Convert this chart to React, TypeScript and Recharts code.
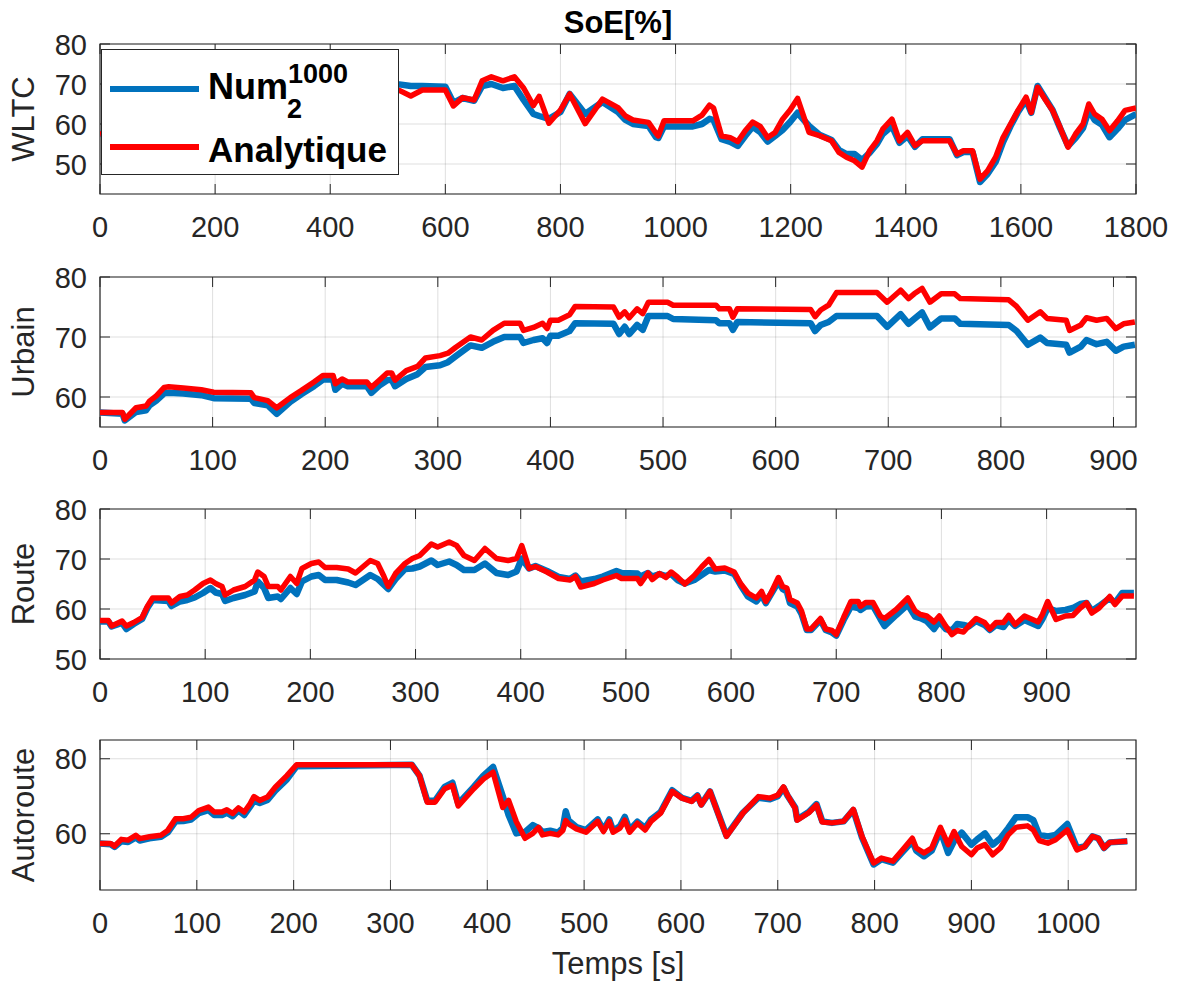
import { CartesianGrid, Line, LineChart, ReferenceArea, XAxis, YAxis } from "recharts";

const BLUE = "#0072BD";
const RED = "#FF0000";
const INK = "#262626";
const FONT = "'Liberation Sans', Arial, Helvetica, sans-serif";

const LEFT = 100;
const RIGHT = 1136;
const PAD = 24;
const PLOT_H = 150;
const AXIS_H = 58;
const CHART_W = 1186;
const CHART_H = PAD + PLOT_H + AXIS_H;
const TICK_LEN = 10;
const TICK_FONT = 29;
const LABEL_FONT = 31;

// WLTC cycle (0-520 s sits under the legend)
const wltcTime = [
  0, 60, 120, 180, 240, 300, 360, 420, 480, 520,
  540, 560, 600, 614, 630, 650, 664, 680, 700, 720,
  736, 753, 763, 780, 800, 816, 843, 873, 900, 913,
  926, 953, 966, 970, 980, 1030, 1046, 1059, 1066, 1080,
  1095, 1108, 1121, 1134, 1147, 1160, 1173, 1186, 1199, 1212,
  1232, 1250, 1271, 1284, 1297, 1311, 1324, 1337, 1350, 1360,
  1376, 1389, 1403, 1416, 1429, 1476, 1489, 1500, 1516, 1529,
  1542, 1556, 1569, 1582, 1595, 1609, 1618, 1629, 1642, 1655,
  1668, 1682, 1695, 1708, 1718, 1728, 1741, 1754, 1768, 1781,
  1800,
];
const wltcNum = [
  57.5, 58.5, 60.5, 59.5, 62, 64, 66, 68, 69.5, 69.9,
  69.5, 69.5, 69.3, 65.3, 66.5, 65.8, 69.5, 70, 69, 69.5,
  66, 62.5, 62, 61.3, 63, 67.5, 62.5, 65.5, 63, 61,
  60, 59.5, 56.7, 56.5, 59.4, 59.4, 60, 61.3, 61, 56.2,
  55.5, 54.5, 57, 59.3, 58, 55.6, 57, 58.5, 60.5, 62.8,
  59.5, 57.3, 56, 53.5, 52.5, 52.5, 51, 52.8, 55, 57.5,
  59.5, 55.3, 57, 54.3, 56.2, 56.2, 52.2, 53, 53, 45.5,
  47.5, 50.5, 55.5, 59.5, 63, 66, 62.8, 69.5, 66.5, 63.5,
  59, 54.5, 56.5, 59, 63.5, 61, 59.8, 56.7, 58.8, 61,
  62.5,
];
const wltcAna = [
  57.5, 59, 61, 60, 63, 65, 66, 68, 69, 68.4,
  67, 68.5, 68.5, 64.5, 66.6, 66, 70.8, 71.8, 70.8, 71.8,
  69, 64.6, 66.9, 60.2, 63.5, 67.5, 60.1, 66.2, 64.1, 62,
  61, 60.4, 57.7, 57, 60.8, 60.8, 62.2, 64.7, 64, 57,
  56.6, 55.6, 58.3, 60.5, 59.4, 56.6, 57.9, 61.2, 63.5, 66.4,
  57.9, 57.1, 55.8, 52.9, 51.7, 50.8, 49.2, 53.3, 55.8, 58.7,
  61.2, 55.8, 57.9, 54.6, 55.8, 55.8, 52.5, 53.3, 53.3, 46.2,
  48.3, 51.7, 56.6, 60, 63.4, 66.7, 62.9, 69.2, 66.2, 63.4,
  59.2, 54.2, 57.5, 60, 65, 62.5, 61.2, 58.3, 60.8, 63.4,
  64,
];

// Urbain
const urbTime = [
  0, 20, 22, 32, 41, 44, 50, 57, 61, 74,
  90, 101, 134, 137, 149, 157, 169, 179, 190, 198,
  207, 209, 215, 220, 237, 241, 248, 255, 259, 262,
  272, 282, 289, 302, 309, 316, 329, 339, 349, 359,
  373, 376, 385, 393, 397, 400, 407, 417, 422, 456,
  461, 466, 470, 477, 482, 487, 504, 509, 547, 550,
  559, 562, 566, 631, 635, 640, 647, 654, 690, 699,
  711, 718, 723, 730, 737, 747, 759, 764, 807, 814,
  824, 835, 841, 858, 861, 871, 876, 885, 894, 902,
  909, 919,
];
const urbNum = [
  57.4, 57.2, 56.1, 57.5, 57.8, 58.6, 59.4, 60.6, 60.7, 60.6,
  60.3, 59.8, 59.7, 59, 58.6, 57.2, 59.2, 60.5, 61.8, 62.9,
  62.9, 61.2, 62.2, 61.8, 61.8, 60.7, 61.9, 62.8, 62.9, 61.8,
  63, 63.8, 65, 65.3, 65.8, 66.8, 68.6, 68.2, 69.2, 70,
  70, 69, 69.5, 69.8, 69, 70.2, 70.2, 71, 72.3, 72.2,
  70.5, 71.7, 70.5, 72, 71.2, 73.5, 73.5, 73, 72.8, 72.3,
  72.3, 71.2, 72.5, 72.3, 71, 72, 72.5, 73.5, 73.5, 71.7,
  73.8, 72.2, 73, 74.1, 71.6, 73.1, 73.1, 72.2, 72, 71,
  68.7, 69.9, 69, 68.7, 67.4, 68.4, 69.5, 68.8, 69.2, 67.7,
  68.4, 68.7,
];
const urbAna = [
  57.4, 57.4, 56.3, 58.2, 58.5, 59.3, 60.2, 61.6, 61.7, 61.5,
  61.2, 60.8, 60.7, 59.9, 59.4, 58.2, 59.9, 61.1, 62.5, 63.6,
  63.6, 62.2, 63, 62.5, 62.5, 61.6, 62.8, 64, 64, 62.8,
  64.4, 65.1, 66.5, 66.9, 67.3, 68.3, 70, 69.5, 71.1, 72.3,
  72.3, 71.1, 71.6, 72.3, 71.4, 72.8, 72.8, 73.7, 75.1, 75,
  73.3, 74.2, 73.2, 74.7, 73.9, 75.8, 75.8, 75.3, 75.3, 74.7,
  74.7, 73.3, 74.7, 74.6, 73.4, 74.5, 75.3, 77.4, 77.4, 75.8,
  77.8, 76.4, 77.2, 78.1, 75.8, 77.2, 77.2, 76.4, 76.2, 75.1,
  72.8, 74.2, 73.1, 72.8, 71.1, 72, 73.2, 72.8, 73.1, 71.4,
  72.2, 72.5,
];

// Route
const routeTime = [
  0, 8, 11, 18, 21, 25, 32, 40, 45, 50,
  65, 68, 76, 83, 90, 98, 105, 110, 116, 119,
  127, 138, 147, 150, 156, 160, 169, 172, 181, 187,
  192, 201, 208, 214, 225, 236, 243, 257, 264, 270,
  274, 281, 290, 297, 304, 315, 321, 332, 339, 346,
  356, 366, 377, 388, 396, 401, 408, 414, 425, 436,
  447, 452, 457, 470, 478, 491, 496, 511, 514, 521,
  525, 532, 538, 543, 549, 556, 565, 572, 579, 585,
  594, 603, 609, 616, 624, 629, 633, 638, 645, 649,
  653, 656, 663, 667, 672, 676, 685, 690, 696, 700,
  707, 714, 721, 723, 728, 735, 742, 746, 757, 768,
  775, 780, 786, 793, 798, 804, 810, 815, 821, 826,
  833, 841, 846, 852, 859, 864, 870, 879, 892, 896,
  901, 909, 918, 925, 932, 938, 943, 950, 960, 965,
  972, 983,
];
const routeNum = [
  57.5, 57.5, 56.5, 57, 57.2, 56, 57, 58, 60.2, 61.8,
  61.6, 60.6, 61.5, 61.8, 62.3, 63.2, 64.2, 63.3, 63, 61.6,
  62.2, 62.8, 63.5, 65.5, 64.2, 62.2, 62.5, 62, 64.2, 63,
  65.5, 66.5, 66.8, 65.8, 65.8, 65.3, 64.8, 66.8, 66, 64.8,
  64, 66, 68, 68.1, 68.5, 69.7, 68.8, 69.5, 68.8, 67.8,
  67.8, 69.1, 67.2, 66.8, 67.5, 70.1, 68.1, 68.6, 67.6, 66.4,
  66, 66.7, 65.5, 66, 66.5, 67.6, 67.2, 67.1, 66.5, 67.2,
  66.5, 67, 66.6, 67, 65.8, 65.1, 65.8, 66.8, 67.8, 67.5,
  67.7, 67, 64.8, 62.5, 61.5, 62.8, 61.2, 63, 65.5, 64,
  63.5, 61.2, 60.5, 59, 55.8, 55.8, 57.8, 55.8, 55.3, 54.7,
  57.8, 60.5, 60.2, 59.8, 60.5, 60.6, 58, 56.6, 58.8, 60.9,
  58.5, 58.2, 57.6, 56, 57.5, 56, 55.7, 57, 56.8, 56.5,
  57.6, 56.8, 55.8, 56.8, 56.4, 57.8, 56.6, 57.8, 56.6, 58,
  60.2, 59.6, 59.8, 60.2, 61, 61.2, 59.6, 60.6, 62.2, 61.2,
  63.2, 63.2,
];
const routeAna = [
  57.7, 57.7, 56.6, 57.3, 57.6, 56.6, 57.3, 58.3, 60.5, 62.2,
  62.2, 61.2, 62.5, 62.8, 63.8, 65.1, 65.8, 65.1, 64.5, 62.8,
  63.8, 64.5, 65.8, 67.4, 66.5, 64.5, 64.5, 63.8, 66.5, 65.1,
  68.1, 69.1, 69.4, 68.3, 68.3, 68, 67.2, 69.7, 69.1, 66.5,
  64.5, 67.1, 69.1, 70.1, 70.7, 73, 72.4, 73.4, 72.7, 70.7,
  69.7, 72.1, 70.1, 69.7, 70.1, 72.7, 68.1, 68.5, 67.4, 66.1,
  65.8, 66.5, 64.4, 65.1, 65.8, 66.7, 66.1, 66.1, 65.1, 67.2,
  65.9, 67.1, 66.3, 67.4, 66.4, 65, 66.7, 68.4, 69.9, 68,
  68.2, 67.4, 65.1, 63.2, 62.2, 63.5, 61.5, 63.2, 66.3, 64.5,
  64.2, 61.9, 61.2, 59.6, 56, 56, 58.1, 56, 55.7, 54.9,
  58.3, 61.5, 61.5, 60.5, 61.3, 61.3, 58.6, 58.1, 59.9, 62.2,
  59.6, 58.9, 58.6, 57.4, 58.6, 56.6, 54.9, 55.7, 55.4, 56.6,
  58.1, 57.3, 56, 57.3, 57.3, 58.7, 56.9, 58.6, 57.4, 58.9,
  61.5, 57.9, 58.6, 58.7, 60.2, 61.2, 59.2, 60.2, 62.5, 60.9,
  62.6, 62.6,
];

// Autoroute
const autoTime = [
  0, 11, 15, 22, 29, 37, 41, 51, 63, 70,
  78, 86, 94, 102, 112, 118, 126, 131, 137, 143,
  149, 155, 159, 165, 173, 181, 193, 203, 322, 330,
  338, 346, 356, 364, 370, 386, 396, 406, 416, 422,
  430, 439, 447, 453, 457, 465, 473, 478, 481, 484,
  492, 502, 514, 520, 526, 530, 537, 542, 547, 555,
  563, 569, 579, 591, 601, 611, 617, 621, 630, 647,
  664, 680, 692, 700, 706, 710, 718, 720, 732, 740,
  746, 756, 768, 778, 787, 799, 807, 819, 829, 839,
  843, 851, 859, 868, 876, 882, 890, 900, 906, 914,
  922, 930, 938, 946, 958, 964, 970, 979, 987, 999,
  1009, 1017, 1025, 1031, 1037, 1043, 1061,
];
const autoNum = [
  57.4, 57.2, 56.5, 58, 57.8, 59, 58.2, 58.8, 59.2, 60.4,
  63.3, 63.4, 63.8, 65.5, 66.3, 65, 65, 65.6, 64.7, 66.2,
  65, 67.2, 68.8, 68.2, 69, 71.5, 74.5, 78, 78.4, 75.5,
  68.8, 68.8, 72.5, 73.6, 68, 72.5, 75.5, 77.8, 70, 65,
  60.1, 60.5, 62.3, 61.5, 60.5, 60.8, 60.3, 61.5, 66, 63.5,
  61.8, 61, 63.8, 61, 63.8, 60.8, 62, 64.5, 61, 63.2,
  61.5, 63.8, 65.8, 71.6, 69.6, 68.8, 70.2, 67.8, 71.3, 59.5,
  65.6, 69.6, 69.2, 70, 72.3, 70.2, 67, 63.8, 65.8, 67.9,
  63.3, 62.9, 63.3, 66.3, 59, 51.8, 53.2, 52.3, 55.2, 58,
  55.5, 54, 55.5, 60.8, 54.9, 58, 60.3, 57.1, 58.5, 60.1,
  57.1, 58.8, 61.5, 64.4, 64.4, 63.6, 59.7, 59.3, 59.7, 62.6,
  56.2, 56.6, 59.3, 58.8, 56.2, 57.7, 58,
];
const autoAna = [
  57.4, 57.4, 56.7, 58.5, 58.3, 59.6, 58.7, 59.2, 59.6, 60.9,
  64, 64, 64.4, 66.2, 67.1, 65.8, 65.8, 66.4, 65.4, 66.9,
  65.8, 68, 69.9, 68.9, 69.8, 72.4, 75.5, 78.4, 78.4, 75.5,
  68.4, 68.4, 72, 72.9, 67.4, 72, 74.6, 76.4, 67, 68.9,
  63.2, 58.8, 60.1, 61.7, 59.7, 60.1, 59.7, 60.9, 63.5, 62.6,
  61.3, 60.4, 63.3, 60.6, 63.3, 60.4, 61.5, 63.6, 60.4, 62.8,
  61, 63.3, 65.5, 71.3, 69.5, 68.6, 70.1, 67.7, 71.3, 59.3,
  65.5, 69.9, 69.5, 70.3, 72.5, 70.3, 66.8, 63.6, 65.6, 67.7,
  63.1, 62.9, 63.3, 66.5, 59.3, 52.2, 53.5, 52.7, 55.7, 58.8,
  56.2, 54.9, 56.2, 61.7, 57.1, 60.6, 56.6, 54.4, 56.2, 57.1,
  54.4, 56.2, 59.7, 61.7, 62.1, 61, 58.2, 57.5, 58.4, 61,
  55.7, 56.6, 59.3, 58.8, 56.2, 57.7, 58,
];

const wltcXTicks = [0, 200, 400, 600, 800, 1000, 1200, 1400, 1600, 1800];
const hundredTicks = [0, 100, 200, 300, 400, 500, 600, 700, 800, 900];
const autoXTicks = [0, 100, 200, 300, 400, 500, 600, 700, 800, 900, 1000];

type PanelDef = {
  label: string;
  top: number;
  time: number[];
  num: number[];
  ana: number[];
  xMax: number;
  xTicks: number[];
  yDomain: [number, number];
  yTicks: number[];
};

const panels: PanelDef[] = [
  { label: "WLTC", top: 44, time: wltcTime, num: wltcNum, ana: wltcAna, xMax: 1800, xTicks: wltcXTicks, yDomain: [42.5, 80], yTicks: [50, 60, 70, 80] },
  { label: "Urbain", top: 277, time: urbTime, num: urbNum, ana: urbAna, xMax: 920, xTicks: hundredTicks, yDomain: [55, 80], yTicks: [60, 70, 80] },
  { label: "Route", top: 509, time: routeTime, num: routeNum, ana: routeAna, xMax: 985, xTicks: hundredTicks, yDomain: [50, 80], yTicks: [50, 60, 70, 80] },
  { label: "Autoroute", top: 740, time: autoTime, num: autoNum, ana: autoAna, xMax: 1070, xTicks: autoXTicks, yDomain: [45, 85], yTicks: [60, 80] },
];

function XTick(props: any) {
  const { x, payload } = props;
  const bottom = PAD + PLOT_H;
  return (
    <g>
      <line x1={x} x2={x} y1={PAD} y2={PAD + TICK_LEN} stroke={INK} />
      <line x1={x} x2={x} y1={bottom} y2={bottom - TICK_LEN} stroke={INK} />
      <text x={x} y={bottom + 43} textAnchor="middle" fontSize={TICK_FONT} fill={INK} fontFamily={FONT}>
        {payload.value}
      </text>
    </g>
  );
}

function YTick(props: any) {
  const { y, payload } = props;
  return (
    <g>
      <line x1={LEFT} x2={LEFT + TICK_LEN} y1={y} y2={y} stroke={INK} />
      <line x1={RIGHT} x2={RIGHT - TICK_LEN} y1={y} y2={y} stroke={INK} />
      <text x={87} y={y + 10.5} textAnchor="end" fontSize={TICK_FONT} fill={INK} fontFamily={FONT}>
        {payload.value}
      </text>
    </g>
  );
}

function Panel({ p }: { p: PanelDef }) {
  const rows = p.time.map((t, i) => ({ t, num: p.num[i], ana: p.ana[i] }));
  return (
    <LineChart
      width={CHART_W}
      height={CHART_H}
      data={rows}
      margin={{ top: PAD, right: CHART_W - RIGHT, bottom: 0, left: 0 }}
    >
      <CartesianGrid stroke={INK} strokeOpacity={0.15} />
      <XAxis
        dataKey="t"
        type="number"
        domain={[0, p.xMax]}
        ticks={p.xTicks}
        interval={0}
        tick={XTick}
        tickLine={false}
        axisLine={false}
        height={AXIS_H}
        allowDataOverflow
      />
      <YAxis
        type="number"
        domain={p.yDomain}
        ticks={p.yTicks}
        interval={0}
        tick={YTick}
        tickLine={false}
        axisLine={false}
        width={LEFT}
        allowDataOverflow
      />
      <Line type="linear" dataKey="num" stroke={BLUE} strokeWidth={6.5} dot={false} activeDot={false} strokeLinejoin="round" isAnimationActive={false} />
      <Line type="linear" dataKey="ana" stroke={RED} strokeWidth={5.5} dot={false} activeDot={false} strokeLinejoin="round" isAnimationActive={false} />
      <ReferenceArea
        x1={0}
        x2={p.xMax}
        y1={p.yDomain[0]}
        y2={p.yDomain[1]}
        fill="none"
        fillOpacity={0}
        stroke={INK}
        strokeWidth={1.2}
        ifOverflow="visible"
      />
    </LineChart>
  );
}

export default function App() {
  return (
    <div style={{ position: "absolute", left: 0, top: 0, width: CHART_W, height: 989, background: "#fff", fontFamily: FONT }}>
      {panels.map((p) => (
        <div key={p.label} style={{ position: "absolute", left: 0, top: p.top - PAD }}>
          <Panel p={p} />
        </div>
      ))}
      <svg width={CHART_W} height={989} style={{ position: "absolute", left: 0, top: 0, pointerEvents: "none" }}>
        <text x={(LEFT + RIGHT) / 2} y={33} textAnchor="middle" fontSize={31} fontWeight="bold" fill="#000" fontFamily={FONT}>
          SoE[%]
        </text>
        {panels.map((p) => (
          <text
            key={p.label}
            transform={`translate(34, ${p.top + PLOT_H / 2}) rotate(-90)`}
            textAnchor="middle"
            fontSize={LABEL_FONT}
            fill={INK}
            fontFamily={FONT}
          >
            {p.label}
          </text>
        ))}
        <text x={(LEFT + RIGHT) / 2} y={974} textAnchor="middle" fontSize={LABEL_FONT} fill={INK} fontFamily={FONT}>
          Temps [s]
        </text>
      </svg>
      <div
        style={{
          position: "absolute",
          left: 101,
          top: 49,
          width: 298,
          height: 126,
          boxSizing: "border-box",
          border: `1px solid ${INK}`,
          background: "#fff",
        }}
      >
        <svg width={296} height={124} style={{ display: "block" }}>
          <line x1={8} x2={97} y1={39} y2={39} stroke={BLUE} strokeWidth={6} />
          <text x={106} y={49} fontSize={36} fontWeight="bold" fill="#000" fontFamily={FONT}>
            Num
          </text>
          <text x={185} y={68} fontSize={27} fontWeight="bold" fill="#000" fontFamily={FONT}>
            2
          </text>
          <text x={186} y={33} fontSize={27} fontWeight="bold" fill="#000" fontFamily={FONT}>
            1000
          </text>
          <line x1={8} x2={97} y1={97} y2={97} stroke={RED} strokeWidth={6} />
          <text x={106} y={112} fontSize={35} fontWeight="bold" fill="#000" fontFamily={FONT}>
            Analytique
          </text>
        </svg>
      </div>
    </div>
  );
}
